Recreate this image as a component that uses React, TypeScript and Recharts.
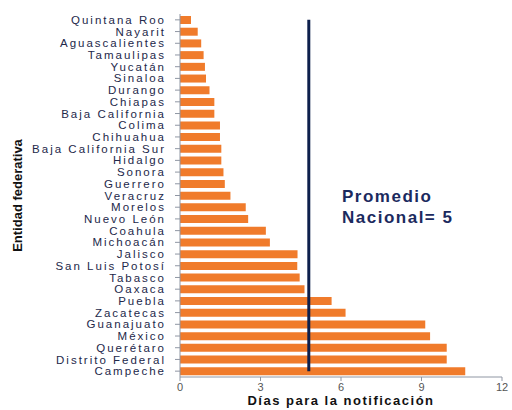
import { BarChart, Bar, XAxis, YAxis, ReferenceLine } from 'recharts'

const entidades = [
  'Quintana Roo', 'Nayarit', 'Aguascalientes', 'Tamaulipas', 'Yucatán', 'Sinaloa',
  'Durango', 'Chiapas', 'Baja California', 'Colima', 'Chihuahua', 'Baja California Sur',
  'Hidalgo', 'Sonora', 'Guerrero', 'Veracruz', 'Morelos', 'Nuevo León', 'Coahula',
  'Michoacán', 'Jalisco', 'San Luis Potosí', 'Tabasco', 'Oaxaca', 'Puebla', 'Zacatecas',
  'Guanajuato', 'México', 'Querétaro', 'Distrito Federal', 'Campeche',
]

const dias = [
  0.41, 0.66, 0.79, 0.88, 0.93, 0.97,
  1.1, 1.28, 1.28, 1.49, 1.49, 1.54,
  1.54, 1.62, 1.67, 1.88, 2.45, 2.54, 3.2,
  3.35, 4.38, 4.37, 4.46, 4.64, 5.65, 6.17,
  9.14, 9.32, 9.94, 9.94, 10.63,
]

const xTicks = [0, 3, 6, 9, 12]
const promedioLinea = 4.8
const promedioTexto = ['Promedio', 'Nacional= 5']

const data = entidades.map((name, i) => ({ name, dias: dias[i] }))

const NAVY = '#1b2a5e'

function YTitle(props: any) {
  const vb = props.viewBox || { x: 0, y: 0, width: 0, height: 0 }
  const cx = vb.x + 17
  const cy = vb.y + vb.height / 2
  return (
    <text
      x={cx}
      y={cy}
      transform={`rotate(-90 ${cx} ${cy})`}
      textAnchor="middle"
      dominantBaseline="central"
      fontFamily="'Liberation Sans Narrow', 'Liberation Sans', Arial, sans-serif"
      fontWeight="bold"
      fontSize={13}
      fill="#111"
    >
      Entidad federativa
    </text>
  )
}

export default function App() {
  return (
    <div style={{ position: 'absolute', left: 0, top: 0, width: 512, height: 410, background: '#fff' }}>
      <BarChart
        width={512}
        height={410}
        data={data}
        layout="vertical"
        margin={{ top: 14, right: 10, left: 0, bottom: 0 }}
        style={{ fontFamily: "'Liberation Sans', Arial, sans-serif" }}
      >
        <XAxis
          type="number"
          domain={[0, 12]}
          ticks={xTicks}
          height={33}
          stroke="#8f96a3"
          tickSize={4}
          tickMargin={2}
          tick={{ fontSize: 11, fill: '#555' }}
          label={{
            value: 'Días para la notificación',
            position: 'insideBottom',
            offset: 5,
            fontSize: 13,
            fontWeight: 'bold',
            letterSpacing: 1.5,
            fill: '#111',
          }}
        />
        <YAxis
          type="category"
          dataKey="name"
          width={180}
          interval={0}
          stroke="#8f96a3"
          tickSize={5}
          tickMargin={9}
          tick={{ fontSize: 11.5, fill: '#23284a', letterSpacing: 2 }}
          label={(p: any) => <YTitle {...p} />}
        />
        <Bar dataKey="dias" fill="#f07b2b" barSize={8} isAnimationActive={false} />
        <ReferenceLine
          segment={[
            { x: promedioLinea, y: entidades[0] },
            { x: promedioLinea, y: entidades[entidades.length - 1] },
          ]}
          stroke="#0d1f4c"
          strokeWidth={3}
        />
      </BarChart>
      <div
        style={{
          position: 'absolute',
          left: 342,
          top: 186,
          fontFamily: "'Liberation Sans', Arial, sans-serif",
          fontWeight: 'bold',
          fontSize: 17,
          letterSpacing: 1.5,
          lineHeight: '21px',
          color: NAVY,
        }}
      >
        {promedioTexto.map((t) => (
          <div key={t}>{t}</div>
        ))}
      </div>
    </div>
  )
}
